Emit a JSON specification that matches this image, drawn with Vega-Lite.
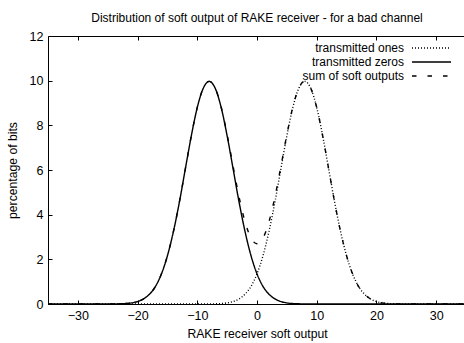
{
  "$schema": "https://vega.github.io/schema/vega-lite/v6.json",
  "width": 418,
  "height": 268,
  "autosize": {"type": "none"},
  "padding": {"left": 48, "top": 36, "right": 0, "bottom": 39},
  "title": {"text": "Distribution of soft output of RAKE receiver - for a bad channel", "fontSize": 12, "fontWeight": "normal", "font": "Liberation Sans", "color": "#000", "offset": 5, "anchor": "middle"},
  "config": {
    "view": {"stroke": "#000", "strokeWidth": 1},
    "font": "Liberation Sans",
    "axis": {"labelFontSize": 12.5, "titleFontSize": 12.2, "titleFontWeight": "normal", "labelColor": "#000", "titleColor": "#000", "tickColor": "#000", "domain": false, "grid": false, "tickSize": -4, "labelFont": "Liberation Sans", "titleFont": "Liberation Sans"}
  },
  "data": {"values": [
    {"x": -35, "transmitted ones": 0, "transmitted zeros": 0, "sum of soft outputs": 0},
    {"x": -24, "transmitted ones": 0, "transmitted zeros": 0, "sum of soft outputs": 0},
    {"x": -23, "transmitted ones": 0, "transmitted zeros": 0.01, "sum of soft outputs": 0.01},
    {"x": -22, "transmitted ones": 0, "transmitted zeros": 0.02, "sum of soft outputs": 0.02},
    {"x": -21, "transmitted ones": 0, "transmitted zeros": 0.05, "sum of soft outputs": 0.05},
    {"x": -20, "transmitted ones": 0, "transmitted zeros": 0.11, "sum of soft outputs": 0.11},
    {"x": -19, "transmitted ones": 0, "transmitted zeros": 0.23, "sum of soft outputs": 0.23},
    {"x": -18, "transmitted ones": 0, "transmitted zeros": 0.44, "sum of soft outputs": 0.44},
    {"x": -17, "transmitted ones": 0, "transmitted zeros": 0.79, "sum of soft outputs": 0.79},
    {"x": -16, "transmitted ones": 0, "transmitted zeros": 1.35, "sum of soft outputs": 1.35},
    {"x": -15, "transmitted ones": 0, "transmitted zeros": 2.16, "sum of soft outputs": 2.16},
    {"x": -14, "transmitted ones": 0, "transmitted zeros": 3.24, "sum of soft outputs": 3.24},
    {"x": -13, "transmitted ones": 0, "transmitted zeros": 4.56, "sum of soft outputs": 4.56},
    {"x": -12, "transmitted ones": 0, "transmitted zeros": 6.05, "sum of soft outputs": 6.05},
    {"x": -11, "transmitted ones": 0, "transmitted zeros": 7.53, "sum of soft outputs": 7.53},
    {"x": -10, "transmitted ones": 0, "transmitted zeros": 8.80, "sum of soft outputs": 8.80},
    {"x": -9, "transmitted ones": 0, "transmitted zeros": 9.66, "sum of soft outputs": 9.66},
    {"x": -8, "transmitted ones": 0, "transmitted zeros": 9.97, "sum of soft outputs": 9.97},
    {"x": -7, "transmitted ones": 0.01, "transmitted zeros": 9.66, "sum of soft outputs": 9.67},
    {"x": -6, "transmitted ones": 0.02, "transmitted zeros": 8.80, "sum of soft outputs": 8.82},
    {"x": -5, "transmitted ones": 0.05, "transmitted zeros": 7.53, "sum of soft outputs": 7.58},
    {"x": -4, "transmitted ones": 0.11, "transmitted zeros": 6.05, "sum of soft outputs": 6.16},
    {"x": -3, "transmitted ones": 0.23, "transmitted zeros": 4.56, "sum of soft outputs": 4.79},
    {"x": -2, "transmitted ones": 0.44, "transmitted zeros": 3.24, "sum of soft outputs": 3.68},
    {"x": -1, "transmitted ones": 0.79, "transmitted zeros": 2.16, "sum of soft outputs": 2.95},
    {"x": 0, "transmitted ones": 1.35, "transmitted zeros": 1.35, "sum of soft outputs": 2.70},
    {"x": 1, "transmitted ones": 2.16, "transmitted zeros": 0.79, "sum of soft outputs": 2.95},
    {"x": 2, "transmitted ones": 3.24, "transmitted zeros": 0.44, "sum of soft outputs": 3.68},
    {"x": 3, "transmitted ones": 4.56, "transmitted zeros": 0.23, "sum of soft outputs": 4.79},
    {"x": 4, "transmitted ones": 6.05, "transmitted zeros": 0.11, "sum of soft outputs": 6.16},
    {"x": 5, "transmitted ones": 7.53, "transmitted zeros": 0.05, "sum of soft outputs": 7.58},
    {"x": 6, "transmitted ones": 8.80, "transmitted zeros": 0.02, "sum of soft outputs": 8.82},
    {"x": 7, "transmitted ones": 9.66, "transmitted zeros": 0.01, "sum of soft outputs": 9.67},
    {"x": 8, "transmitted ones": 9.97, "transmitted zeros": 0, "sum of soft outputs": 9.97},
    {"x": 9, "transmitted ones": 9.66, "transmitted zeros": 0, "sum of soft outputs": 9.66},
    {"x": 10, "transmitted ones": 8.80, "transmitted zeros": 0, "sum of soft outputs": 8.80},
    {"x": 11, "transmitted ones": 7.53, "transmitted zeros": 0, "sum of soft outputs": 7.53},
    {"x": 12, "transmitted ones": 6.05, "transmitted zeros": 0, "sum of soft outputs": 6.05},
    {"x": 13, "transmitted ones": 4.56, "transmitted zeros": 0, "sum of soft outputs": 4.56},
    {"x": 14, "transmitted ones": 3.24, "transmitted zeros": 0, "sum of soft outputs": 3.24},
    {"x": 15, "transmitted ones": 2.16, "transmitted zeros": 0, "sum of soft outputs": 2.16},
    {"x": 16, "transmitted ones": 1.35, "transmitted zeros": 0, "sum of soft outputs": 1.35},
    {"x": 17, "transmitted ones": 0.79, "transmitted zeros": 0, "sum of soft outputs": 0.79},
    {"x": 18, "transmitted ones": 0.44, "transmitted zeros": 0, "sum of soft outputs": 0.44},
    {"x": 19, "transmitted ones": 0.23, "transmitted zeros": 0, "sum of soft outputs": 0.23},
    {"x": 20, "transmitted ones": 0.11, "transmitted zeros": 0, "sum of soft outputs": 0.11},
    {"x": 21, "transmitted ones": 0.05, "transmitted zeros": 0, "sum of soft outputs": 0.05},
    {"x": 22, "transmitted ones": 0.02, "transmitted zeros": 0, "sum of soft outputs": 0.02},
    {"x": 23, "transmitted ones": 0.01, "transmitted zeros": 0, "sum of soft outputs": 0.01},
    {"x": 24, "transmitted ones": 0, "transmitted zeros": 0, "sum of soft outputs": 0},
    {"x": 35, "transmitted ones": 0, "transmitted zeros": 0, "sum of soft outputs": 0}
  ]},
  "transform": [{"fold": ["transmitted ones", "transmitted zeros", "sum of soft outputs"], "as": ["series", "y"]}],
  "layer": [
    {
      "mark": {"type": "line", "strokeWidth": 1.4, "color": "#000", "interpolate": "monotone"},
      "encoding": {
        "x": {"field": "x", "type": "quantitative", "scale": {"domain": [-35, 35], "nice": false, "zero": false},
          "axis": {"title": "RAKE receiver soft output", "values": [-30, -20, -10, 0, 10, 20, 30], "labelPadding": 9, "titlePadding": 6}},
        "y": {"field": "y", "type": "quantitative", "scale": {"domain": [0, 12], "nice": false},
          "axis": {"title": "percentage of bits", "values": [0, 2, 4, 6, 8, 10, 12], "labelPadding": 9, "titlePadding": 10}},
        "strokeDash": {"field": "series", "type": "nominal",
          "scale": {"domain": ["transmitted ones", "transmitted zeros", "sum of soft outputs"], "range": [[1, 2], [1, 0], [4.5, 11]]},
          "legend": {"orient": "none", "legendX": 376, "legendY": 4.5, "title": null, "labelAlign": "right", "labelOffset": -35, "symbolType": "M-3,0H3", "symbolSize": 169, "symbolStrokeWidth": 1.4, "symbolStrokeColor": "#000", "labelFontSize": 12, "labelColor": "#000", "rowPadding": 0, "padding": 0}}
      }
    },
    {
      "mark": {"type": "point", "opacity": 0},
      "encoding": {
        "x": {"field": "x", "type": "quantitative", "axis": {"orient": "top", "labels": false, "title": null, "values": [-30, -20, -10, 0, 10, 20, 30]}}
      }
    }
  ],
  "resolve": {"axis": {"x": "independent"}}
}
